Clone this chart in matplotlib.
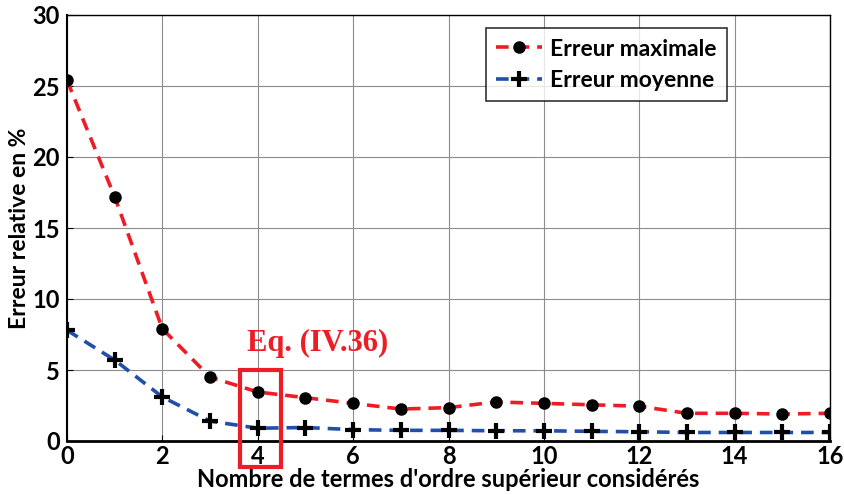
import matplotlib
matplotlib.use("Agg")
import matplotlib.pyplot as plt
from matplotlib.patches import Rectangle

x = list(range(17))
err_max = [25.4, 17.2, 7.9, 4.5, 3.45, 3.05, 2.65, 2.25, 2.35, 2.75, 2.65, 2.55, 2.45, 1.95, 1.95, 1.9, 1.95]
err_moy = [7.8, 5.7, 3.1, 1.4, 0.9, 0.95, 0.8, 0.75, 0.75, 0.72, 0.72, 0.68, 0.65, 0.6, 0.6, 0.6, 0.6]
xticks = [0, 2, 4, 6, 8, 10, 12, 14, 16]
yticks = [0, 5, 10, 15, 20, 25, 30]

plt.rcParams['font.family'] = ['Lato', 'DejaVu Sans']
plt.rcParams['font.weight'] = 'bold'

fig = plt.figure(figsize=(8.44, 4.95), dpi=100)
ax = fig.add_axes([67/844, 1-441/495, (830-67)/844, (441-15)/495])

ax.plot(x, err_max, color='#ee1c25', linestyle=(0, (3.5, 2.2)), linewidth=2.6,
        marker='o', markersize=8, markerfacecolor='black', markeredgecolor='black',
        label='Erreur maximale', zorder=3)
ax.plot(x, err_moy, color='#1f4fa8', linestyle=(0, (3.5, 2.2)), linewidth=2.6,
        marker='+', markersize=12, markeredgewidth=3, markeredgecolor='black',
        label='Erreur moyenne', zorder=3)

ax.set_xlim(0, 16)
ax.set_ylim(0, 30)
ax.set_xticks(xticks)
ax.set_yticks(yticks)
ax.grid(True, color='#8c8c8c', linewidth=0.8)
ax.tick_params(direction='in', labelsize=17, length=4, pad=5)
ax.tick_params(axis='x', pad=3)
for lab in ax.get_xticklabels() + ax.get_yticklabels():
    lab.set_fontweight('bold')
for s in ax.spines.values():
    s.set_linewidth(1.0)
ax.spines['bottom'].set_linewidth(2.0)
ax.spines['left'].set_linewidth(1.5)

ax.set_xlabel("Nombre de termes d'ordre supérieur considérés", fontsize=17, fontweight='bold', labelpad=0)
ax.set_ylabel("Erreur relative en %", fontsize=16.5, fontweight='bold', labelpad=2)

leg = ax.legend(loc='upper right', bbox_to_anchor=(0.865, 0.969), fontsize=16.5, frameon=True,
                fancybox=False, edgecolor='black', handlelength=2.0, borderpad=0.45,
                labelspacing=0.45, handletextpad=0.35, borderaxespad=0)
leg.get_frame().set_linewidth(1.2)
for t in leg.get_texts():
    t.set_fontweight('bold')

rect = Rectangle((3.63, -1.83), 0.86, 6.83, fill=False, edgecolor='#ee1c25', linewidth=3,
                 clip_on=False, zorder=5)
ax.add_patch(rect)
ax.text(5.25, 6.9, "Eq. (IV.36)", color='#ee1c25', fontsize=22, fontweight='bold',
        family='Liberation Serif', ha='center', va='center')

fig.savefig('out.png', dpi=100)
